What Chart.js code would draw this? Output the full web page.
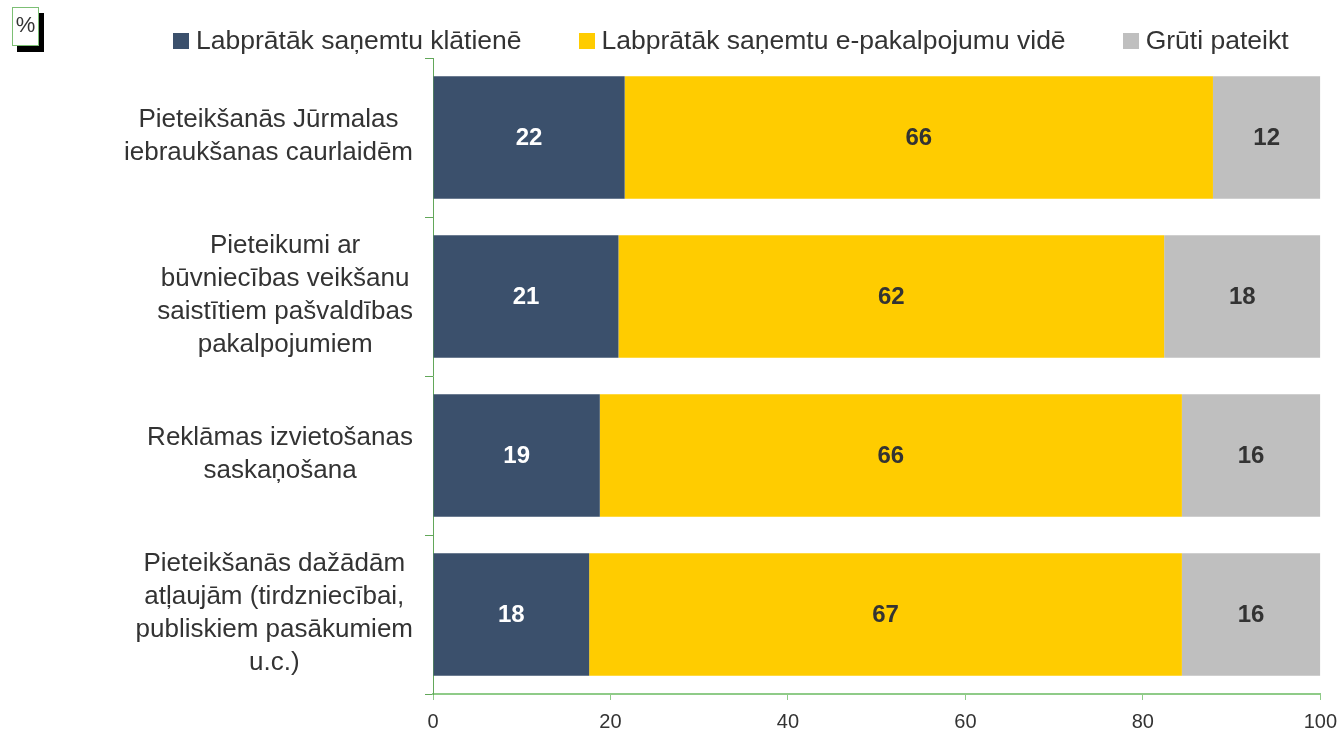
<!DOCTYPE html>
<html>
<head>
<meta charset="utf-8">
<script src="https://cdn.jsdelivr.net/npm/chart.js@4.4.1/dist/chart.umd.min.js"></script>
<style>
  html, body { margin: 0; padding: 0; background: #fff; }
  #wrap { position: relative; width: 1341px; height: 733px; overflow: hidden; }
  #chart { position: absolute; left: 0; top: 0; }
  #unit {
    position: absolute; left: 12px; top: 7px; width: 25px; height: 37px;
    border: 1px solid #7cbf74; background: #fff; box-shadow: 5px 6px 0 #000;
    font: 22px "Liberation Sans", Arial, sans-serif; color: #333; text-align: center;
    line-height: 34px;
  }
  #legend {
    position: absolute; left: 173px; top: 25px; display: flex; gap: 57px;
    font: 26.5px "Liberation Sans", Arial, sans-serif; color: #333; white-space: nowrap;
  }
  #legend .item { display: flex; align-items: center; }
  #legend .box { width: 16px; height: 16px; margin-right: 7px; }
</style>
</head>
<body>
<div id="wrap">
  <canvas id="chart" width="1347" height="744"></canvas>
  <div id="unit">%</div>
  <div id="legend"></div>
</div>
<script>
const categories = [
  ['Pieteikšanās Jūrmalas', 'iebraukšanas caurlaidēm'],
  ['Pieteikumi ar', 'būvniecības veikšanu', 'saistītiem pašvaldības', 'pakalpojumiem'],
  ['Reklāmas izvietošanas', 'saskaņošana'],
  ['Pieteikšanās dažādām', 'atļaujām (tirdzniecībai,', 'publiskiem pasākumiem', 'u.c.)']
];
const seriesNames = ['Labprātāk saņemtu klātienē', 'Labprātāk saņemtu e-pakalpojumu vidē', 'Grūti pateikt'];
const inPerson = [21.6, 20.9, 18.8, 17.6];
const online = [66.3, 61.5, 65.6, 66.8];
const hardToSay = [12.1, 17.6, 15.6, 15.6];
const xTicks = [0, 20, 40, 60, 80, 100];

const colors = ['#3b506c', '#ffcc00', '#bfbfbf'];
const labelColors = ['#ffffff', '#333333', '#333333'];
const FONT = '"Liberation Sans", Arial, sans-serif';

// legend in html, built from the series arrays
const legendEl = document.getElementById('legend');
seriesNames.forEach((name, i) => {
  const item = document.createElement('div');
  item.className = 'item';
  item.innerHTML = '<span class="box" style="background:' + colors[i] + '"></span><span></span>';
  item.lastChild.textContent = name;
  legendEl.appendChild(item);
});

// bold numbers in the middle of each segment
const valueLabels = {
  id: 'valueLabels',
  afterDatasetsDraw(chart) {
    const ctx = chart.ctx;
    ctx.save();
    ctx.font = 'bold 24px ' + FONT;
    ctx.textAlign = 'center';
    ctx.textBaseline = 'middle';
    chart.data.datasets.forEach((ds, i) => {
      chart.getDatasetMeta(i).data.forEach((bar, j) => {
        ctx.fillStyle = labelColors[i];
        ctx.fillText(Math.round(ds.data[j]), (bar.x + bar.base) / 2, bar.y + 1);
      });
    });
    ctx.restore();
  }
};

// category labels: each block centred on itself, block right-aligned to the axis
const catLabels = {
  id: 'catLabels',
  afterDraw(chart) {
    const ctx = chart.ctx;
    const y = chart.scales.y;
    ctx.save();
    ctx.font = '26px ' + FONT;
    ctx.fillStyle = '#333';
    ctx.textAlign = 'center';
    ctx.textBaseline = 'middle';
    const lh = 33;
    categories.forEach((lines, i) => {
      const w = Math.max(...lines.map(l => ctx.measureText(l).width));
      const cx = y.right - 20 - w / 2;
      const cy = y.getPixelForTick(i) - 1;
      lines.forEach((l, k) => ctx.fillText(l, cx, cy + (k - (lines.length - 1) / 2) * lh));
    });
    ctx.restore();
  }
};

new Chart(document.getElementById('chart'), {
  type: 'bar',
  data: {
    labels: categories,
    datasets: [
      { label: seriesNames[0], data: inPerson, backgroundColor: colors[0] },
      { label: seriesNames[1], data: online, backgroundColor: colors[1] },
      { label: seriesNames[2], data: hardToSay, backgroundColor: colors[2] }
    ]
  },
  options: {
    indexAxis: 'y',
    responsive: false,
    animation: false,
    datasets: { bar: { barPercentage: 0.77, categoryPercentage: 1 } },
    layout: { padding: { left: 0, right: 21, top: 58, bottom: 0 } },
    plugins: {
      legend: { display: false },
      tooltip: { enabled: false }
    },
    scales: {
      x: {
        stacked: true, min: 0, max: 100,
        afterBuildTicks: s => { s.ticks = xTicks.map(v => ({ value: v })); },
        grid: { drawOnChartArea: false, tickLength: 6, color: '#8fcb88' },
        border: { color: '#8fcb88', width: 2 },
        ticks: { color: '#333', padding: 10, font: { family: FONT, size: 20 } }
      },
      y: {
        stacked: true,
        afterFit: s => { s.width = 433; },
        grid: { drawOnChartArea: false, tickLength: 8, color: '#62a75a', offset: true },
        border: { color: '#62a75a' },
        ticks: { display: false }
      }
    }
  },
  plugins: [valueLabels, catLabels]
});
</script>
</body>
</html>
